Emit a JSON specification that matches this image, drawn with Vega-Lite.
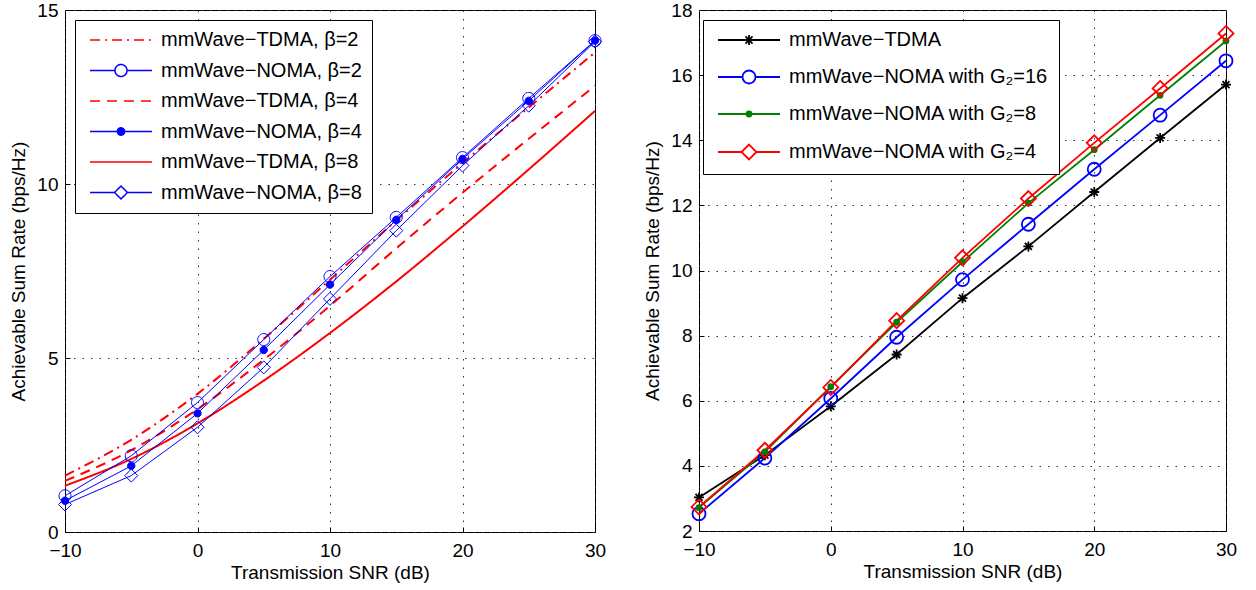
{
  "$schema": "https://vega.github.io/schema/vega-lite/v6.json",
  "padding": {"left": 9, "top": 0, "right": 5, "bottom": 5},
  "spacing": 36,
  "resolve": {
    "scale": {"stroke": "independent", "fill": "independent", "shape": "independent", "strokeDash": "independent"},
    "legend": {"stroke": "independent", "fill": "independent", "shape": "independent", "strokeDash": "independent"}
  },
  "config": {
    "font": "Liberation Sans",
    "view": {"stroke": "black", "strokeWidth": 1},
    "axis": {
      "labelFont": "Liberation Sans", "labelFontSize": 19, "labelColor": "black", "labelFlush": false,
      "titleFont": "Liberation Sans", "titleFontSize": 19, "titleFontWeight": "normal", "titleColor": "black",
      "domain": false, "ticks": true, "tickColor": "black", "tickSize": -5,
      "grid": true, "gridColor": "#333", "gridDash": [1.5, 7], "gridWidth": 1, "gridOpacity": 1
    },
    "axisX": {"labelPadding": 14, "titlePadding": 3},
    "axisY": {"labelPadding": 12, "titlePadding": 8},
    "legend": {
      "labelFont": "Liberation Sans", "labelFontSize": 20, "labelColor": "black", "labelLimit": 0,
      "symbolSize": 64, "symbolStrokeWidth": 1.5, "symbolOffset": 26, "labelOffset": 30, "padding": 10,
      "strokeColor": "black", "fillColor": "white", "symbolOpacity": 1
    }
  },
  "hconcat": [
    {
      "width": 530,
      "height": 522,
      "data": {"values": [
        {"snr": -10, "rate": 1.62, "series": "mmWave−TDMA, β=2", "kind": "TDMA"},
        {"snr": -5, "rate": 2.65, "series": "mmWave−TDMA, β=2", "kind": "TDMA"},
        {"snr": 0, "rate": 3.97, "series": "mmWave−TDMA, β=2", "kind": "TDMA"},
        {"snr": 5, "rate": 5.55, "series": "mmWave−TDMA, β=2", "kind": "TDMA"},
        {"snr": 10, "rate": 7.25, "series": "mmWave−TDMA, β=2", "kind": "TDMA"},
        {"snr": 15, "rate": 8.95, "series": "mmWave−TDMA, β=2", "kind": "TDMA"},
        {"snr": 20, "rate": 10.6, "series": "mmWave−TDMA, β=2", "kind": "TDMA"},
        {"snr": 25, "rate": 12.2, "series": "mmWave−TDMA, β=2", "kind": "TDMA"},
        {"snr": 30, "rate": 13.78, "series": "mmWave−TDMA, β=2", "kind": "TDMA"},
        {"snr": -10, "rate": 1.04, "series": "mmWave−NOMA, β=2", "kind": "NOMA"},
        {"snr": -5, "rate": 2.19, "series": "mmWave−NOMA, β=2", "kind": "NOMA"},
        {"snr": 0, "rate": 3.72, "series": "mmWave−NOMA, β=2", "kind": "NOMA"},
        {"snr": 5, "rate": 5.53, "series": "mmWave−NOMA, β=2", "kind": "NOMA"},
        {"snr": 10, "rate": 7.34, "series": "mmWave−NOMA, β=2", "kind": "NOMA"},
        {"snr": 15, "rate": 9.04, "series": "mmWave−NOMA, β=2", "kind": "NOMA"},
        {"snr": 20, "rate": 10.76, "series": "mmWave−NOMA, β=2", "kind": "NOMA"},
        {"snr": 25, "rate": 12.46, "series": "mmWave−NOMA, β=2", "kind": "NOMA"},
        {"snr": 30, "rate": 14.12, "series": "mmWave−NOMA, β=2", "kind": "NOMA"},
        {"snr": -10, "rate": 1.47, "series": "mmWave−TDMA, β=4", "kind": "TDMA"},
        {"snr": -5, "rate": 2.35, "series": "mmWave−TDMA, β=4", "kind": "TDMA"},
        {"snr": 0, "rate": 3.53, "series": "mmWave−TDMA, β=4", "kind": "TDMA"},
        {"snr": 5, "rate": 4.95, "series": "mmWave−TDMA, β=4", "kind": "TDMA"},
        {"snr": 10, "rate": 6.5, "series": "mmWave−TDMA, β=4", "kind": "TDMA"},
        {"snr": 15, "rate": 8.15, "series": "mmWave−TDMA, β=4", "kind": "TDMA"},
        {"snr": 20, "rate": 9.75, "series": "mmWave−TDMA, β=4", "kind": "TDMA"},
        {"snr": 25, "rate": 11.3, "series": "mmWave−TDMA, β=4", "kind": "TDMA"},
        {"snr": 30, "rate": 12.82, "series": "mmWave−TDMA, β=4", "kind": "TDMA"},
        {"snr": -10, "rate": 0.9, "series": "mmWave−NOMA, β=4", "kind": "NOMA"},
        {"snr": -5, "rate": 1.9, "series": "mmWave−NOMA, β=4", "kind": "NOMA"},
        {"snr": 0, "rate": 3.41, "series": "mmWave−NOMA, β=4", "kind": "NOMA"},
        {"snr": 5, "rate": 5.23, "series": "mmWave−NOMA, β=4", "kind": "NOMA"},
        {"snr": 10, "rate": 7.11, "series": "mmWave−NOMA, β=4", "kind": "NOMA"},
        {"snr": 15, "rate": 8.97, "series": "mmWave−NOMA, β=4", "kind": "NOMA"},
        {"snr": 20, "rate": 10.72, "series": "mmWave−NOMA, β=4", "kind": "NOMA"},
        {"snr": 25, "rate": 12.39, "series": "mmWave−NOMA, β=4", "kind": "NOMA"},
        {"snr": 30, "rate": 14.12, "series": "mmWave−NOMA, β=4", "kind": "NOMA"},
        {"snr": -10, "rate": 1.33, "series": "mmWave−TDMA, β=8", "kind": "TDMA"},
        {"snr": -5, "rate": 2.1, "series": "mmWave−TDMA, β=8", "kind": "TDMA"},
        {"snr": 0, "rate": 3.12, "series": "mmWave−TDMA, β=8", "kind": "TDMA"},
        {"snr": 5, "rate": 4.35, "series": "mmWave−TDMA, β=8", "kind": "TDMA"},
        {"snr": 10, "rate": 5.72, "series": "mmWave−TDMA, β=8", "kind": "TDMA"},
        {"snr": 15, "rate": 7.2, "series": "mmWave−TDMA, β=8", "kind": "TDMA"},
        {"snr": 20, "rate": 8.78, "series": "mmWave−TDMA, β=8", "kind": "TDMA"},
        {"snr": 25, "rate": 10.42, "series": "mmWave−TDMA, β=8", "kind": "TDMA"},
        {"snr": 30, "rate": 12.1, "series": "mmWave−TDMA, β=8", "kind": "TDMA"},
        {"snr": -10, "rate": 0.79, "series": "mmWave−NOMA, β=8", "kind": "NOMA"},
        {"snr": -5, "rate": 1.62, "series": "mmWave−NOMA, β=8", "kind": "NOMA"},
        {"snr": 0, "rate": 3.01, "series": "mmWave−NOMA, β=8", "kind": "NOMA"},
        {"snr": 5, "rate": 4.73, "series": "mmWave−NOMA, β=8", "kind": "NOMA"},
        {"snr": 10, "rate": 6.7, "series": "mmWave−NOMA, β=8", "kind": "NOMA"},
        {"snr": 15, "rate": 8.66, "series": "mmWave−NOMA, β=8", "kind": "NOMA"},
        {"snr": 20, "rate": 10.53, "series": "mmWave−NOMA, β=8", "kind": "NOMA"},
        {"snr": 25, "rate": 12.25, "series": "mmWave−NOMA, β=8", "kind": "NOMA"},
        {"snr": 30, "rate": 14.09, "series": "mmWave−NOMA, β=8", "kind": "NOMA"}
      ]},
      "encoding": {
        "x": {"field": "snr", "type": "quantitative", "scale": {"domain": [-10, 30], "nice": false, "zero": false},
              "axis": {"values": [-10, 0, 10, 20, 30], "title": "Transmission SNR (dB)"}},
        "y": {"field": "rate", "type": "quantitative", "scale": {"domain": [0, 15], "nice": false},
              "axis": {"values": [0, 5, 10, 15], "title": "Achievable Sum Rate (bps/Hz)"}},
        "stroke": {"field": "series", "type": "nominal", "legend": {"title": null},
                   "scale": {"domain": ["mmWave−TDMA, β=2", "mmWave−NOMA, β=2", "mmWave−TDMA, β=4", "mmWave−NOMA, β=4", "mmWave−TDMA, β=8", "mmWave−NOMA, β=8"],
                             "range": ["#ff0000", "#0000ff", "#ff0000", "#0000ff", "#ff0000", "#0000ff"]}}
      },
      "layer": [
        {
          "transform": [{"filter": "datum.kind == 'TDMA'"}],
          "mark": {"type": "line", "strokeWidth": 2, "interpolate": "monotone"},
          "encoding": {
            "strokeDash": {"field": "series", "type": "nominal", "legend": {"title": null},
                           "scale": {"domain": ["mmWave−TDMA, β=2", "mmWave−NOMA, β=2", "mmWave−TDMA, β=4", "mmWave−NOMA, β=4", "mmWave−TDMA, β=8", "mmWave−NOMA, β=8"],
                                     "range": [[10, 5, 2, 5], [1, 0], [10, 7], [1, 0], [1, 0], [1, 0]]}}
          }
        },
        {
          "transform": [{"filter": "datum.kind == 'NOMA'"}],
          "mark": {"type": "line", "strokeWidth": 1},
          "encoding": {}
        },
        {
          "transform": [{"filter": "datum.series == 'mmWave−NOMA, β=2'"}],
          "mark": {"type": "point", "size": 400, "strokeWidth": 1, "opacity": 1, "filled": false,
                   "shape": "M-0.6,0A0.6,0.6,0,1,0,0.6,0A0.6,0.6,0,1,0,-0.6,0Z"},
          "encoding": {}
        },
        {
          "transform": [{"filter": "datum.series == 'mmWave−NOMA, β=4'"}],
          "mark": {"type": "point", "size": 400, "strokeWidth": 1, "opacity": 1, "filled": false, "fill": "#0000ff",
                   "shape": "M-0.37,0A0.37,0.37,0,1,0,0.37,0A0.37,0.37,0,1,0,-0.37,0Z"},
          "encoding": {}
        },
        {
          "transform": [{"filter": "datum.series == 'mmWave−NOMA, β=8'"}],
          "mark": {"type": "point", "size": 400, "strokeWidth": 1, "opacity": 1, "filled": false,
                   "shape": "M0,-0.65L0.65,0L0,0.65L-0.65,0Z"},
          "encoding": {}
        },
        {
          "transform": [{"filter": "datum.snr > 1000"}],
          "mark": {"type": "point", "opacity": 1, "filled": false},
          "encoding": {
            "fill": {"field": "series", "type": "nominal", "legend": {"title": null},
                     "scale": {"domain": ["mmWave−TDMA, β=2", "mmWave−NOMA, β=2", "mmWave−TDMA, β=4", "mmWave−NOMA, β=4", "mmWave−TDMA, β=8", "mmWave−NOMA, β=8"],
                               "range": ["transparent", "transparent", "transparent", "#0000ff", "transparent", "transparent"]}},
            "shape": {"field": "series", "type": "nominal",
                      "scale": {"domain": ["mmWave−TDMA, β=2", "mmWave−NOMA, β=2", "mmWave−TDMA, β=4", "mmWave−NOMA, β=4", "mmWave−TDMA, β=8", "mmWave−NOMA, β=8"],
                                "range": ["M-7.75,0H7.75", "M-7.75,0H-1.5M1.5,0H7.75M-1.5,0A1.5,1.5,0,1,0,1.5,0A1.5,1.5,0,1,0,-1.5,0Z", "M-7.75,0H7.75", "M-7.75,0H7.75M-0.92,0A0.92,0.92,0,1,0,0.92,0A0.92,0.92,0,1,0,-0.92,0Z", "M-7.75,0H7.75", "M-7.75,0H-1.62M1.62,0H7.75M0,-1.62L1.62,0L0,1.62L-1.62,0Z"]},
                      "legend": {"title": null, "orient": "top-left", "offset": 10, "rowPadding": 10.5}}
          }
        }
      ]
    },
    {
      "width": 527,
      "height": 521,
      "data": {"values": [
        {"snr": -10, "rate": 3.03, "series": "mmWave−TDMA"},
        {"snr": -5, "rate": 4.33, "series": "mmWave−TDMA"},
        {"snr": 0, "rate": 5.83, "series": "mmWave−TDMA"},
        {"snr": 5, "rate": 7.42, "series": "mmWave−TDMA"},
        {"snr": 10, "rate": 9.15, "series": "mmWave−TDMA"},
        {"snr": 15, "rate": 10.74, "series": "mmWave−TDMA"},
        {"snr": 20, "rate": 12.41, "series": "mmWave−TDMA"},
        {"snr": 25, "rate": 14.07, "series": "mmWave−TDMA"},
        {"snr": 30, "rate": 15.71, "series": "mmWave−TDMA"},
        {"snr": -10, "rate": 2.53, "series": "mmWave−NOMA with G₂=16"},
        {"snr": -5, "rate": 4.24, "series": "mmWave−NOMA with G₂=16"},
        {"snr": 0, "rate": 6.07, "series": "mmWave−NOMA with G₂=16"},
        {"snr": 5, "rate": 7.95, "series": "mmWave−NOMA with G₂=16"},
        {"snr": 10, "rate": 9.72, "series": "mmWave−NOMA with G₂=16"},
        {"snr": 15, "rate": 11.42, "series": "mmWave−NOMA with G₂=16"},
        {"snr": 20, "rate": 13.11, "series": "mmWave−NOMA with G₂=16"},
        {"snr": 25, "rate": 14.77, "series": "mmWave−NOMA with G₂=16"},
        {"snr": 30, "rate": 16.44, "series": "mmWave−NOMA with G₂=16"},
        {"snr": -10, "rate": 2.72, "series": "mmWave−NOMA with G₂=8"},
        {"snr": -5, "rate": 4.43, "series": "mmWave−NOMA with G₂=8"},
        {"snr": 0, "rate": 6.43, "series": "mmWave−NOMA with G₂=8"},
        {"snr": 5, "rate": 8.41, "series": "mmWave−NOMA with G₂=8"},
        {"snr": 10, "rate": 10.26, "series": "mmWave−NOMA with G₂=8"},
        {"snr": 15, "rate": 12.07, "series": "mmWave−NOMA with G₂=8"},
        {"snr": 20, "rate": 13.71, "series": "mmWave−NOMA with G₂=8"},
        {"snr": 25, "rate": 15.38, "series": "mmWave−NOMA with G₂=8"},
        {"snr": 30, "rate": 17.05, "series": "mmWave−NOMA with G₂=8"},
        {"snr": -10, "rate": 2.74, "series": "mmWave−NOMA with G₂=4"},
        {"snr": -5, "rate": 4.48, "series": "mmWave−NOMA with G₂=4"},
        {"snr": 0, "rate": 6.41, "series": "mmWave−NOMA with G₂=4"},
        {"snr": 5, "rate": 8.46, "series": "mmWave−NOMA with G₂=4"},
        {"snr": 10, "rate": 10.39, "series": "mmWave−NOMA with G₂=4"},
        {"snr": 15, "rate": 12.21, "series": "mmWave−NOMA with G₂=4"},
        {"snr": 20, "rate": 13.92, "series": "mmWave−NOMA with G₂=4"},
        {"snr": 25, "rate": 15.59, "series": "mmWave−NOMA with G₂=4"},
        {"snr": 30, "rate": 17.28, "series": "mmWave−NOMA with G₂=4"}
      ]},
      "encoding": {
        "x": {"field": "snr", "type": "quantitative", "scale": {"domain": [-10, 30], "nice": false, "zero": false},
              "axis": {"values": [-10, 0, 10, 20, 30], "title": "Transmission SNR (dB)"}},
        "y": {"field": "rate", "type": "quantitative", "scale": {"domain": [2, 18], "nice": false, "zero": false},
              "axis": {"values": [2, 4, 6, 8, 10, 12, 14, 16, 18], "title": "Achievable Sum Rate (bps/Hz)"}},
        "stroke": {"field": "series", "type": "nominal", "legend": {"title": null},
                   "scale": {"domain": ["mmWave−TDMA", "mmWave−NOMA with G₂=16", "mmWave−NOMA with G₂=8", "mmWave−NOMA with G₂=4"],
                             "range": ["#000000", "#0000ff", "#008000", "#ff0000"]}}
      },
      "layer": [
        {
          "mark": {"type": "line", "strokeWidth": 1.8},
          "encoding": {}
        },
        {
          "transform": [{"filter": "datum.series == 'mmWave−TDMA'"}],
          "mark": {"type": "point", "size": 400, "strokeWidth": 1.8, "opacity": 1, "filled": false,
                   "shape": "M0,-0.5V0.5M-0.5,0H0.5M-0.35,-0.35L0.35,0.35M-0.35,0.35L0.35,-0.35"},
          "encoding": {}
        },
        {
          "transform": [{"filter": "datum.series == 'mmWave−NOMA with G₂=16'"}],
          "mark": {"type": "point", "size": 400, "strokeWidth": 1.8, "opacity": 1, "filled": false,
                   "shape": "M-0.65,0A0.65,0.65,0,1,0,0.65,0A0.65,0.65,0,1,0,-0.65,0Z"},
          "encoding": {}
        },
        {
          "transform": [{"filter": "datum.series == 'mmWave−NOMA with G₂=8'"}],
          "mark": {"type": "point", "size": 400, "strokeWidth": 1.8, "opacity": 1, "filled": false, "fill": "#008000",
                   "shape": "M-0.25,0A0.25,0.25,0,1,0,0.25,0A0.25,0.25,0,1,0,-0.25,0Z"},
          "encoding": {}
        },
        {
          "transform": [{"filter": "datum.series == 'mmWave−NOMA with G₂=4'"}],
          "mark": {"type": "point", "size": 400, "strokeWidth": 1.8, "opacity": 1, "filled": false,
                   "shape": "M0,-0.75L0.75,0L0,0.75L-0.75,0Z"},
          "encoding": {}
        },
        {
          "transform": [{"filter": "datum.snr > 1000"}],
          "mark": {"type": "point", "opacity": 1, "filled": false},
          "encoding": {
            "fill": {"field": "series", "type": "nominal", "legend": {"title": null},
                     "scale": {"domain": ["mmWave−TDMA", "mmWave−NOMA with G₂=16", "mmWave−NOMA with G₂=8", "mmWave−NOMA with G₂=4"],
                               "range": ["transparent", "transparent", "#008000", "transparent"]}},
            "shape": {"field": "series", "type": "nominal",
                      "scale": {"domain": ["mmWave−TDMA", "mmWave−NOMA with G₂=16", "mmWave−NOMA with G₂=8", "mmWave−NOMA with G₂=4"],
                                "range": ["M-7.75,0H7.75M0,-1.25V1.25M-0.88,-0.88L0.88,0.88M-0.88,0.88L0.88,-0.88", "M-7.75,0H-1.62M1.62,0H7.75M-1.62,0A1.62,1.62,0,1,0,1.62,0A1.62,1.62,0,1,0,-1.62,0Z", "M-7.75,0H7.75M-0.62,0A0.62,0.62,0,1,0,0.62,0A0.62,0.62,0,1,0,-0.62,0Z", "M-7.75,0H-1.87M1.87,0H7.75M0,-1.87L1.87,0L0,1.87L-1.87,0Z"]},
                      "legend": {"title": null, "orient": "none", "legendX": 4, "legendY": 10, "rowPadding": 16, "symbolStrokeWidth": 1.8}}
          }
        }
      ]
    }
  ]
}
